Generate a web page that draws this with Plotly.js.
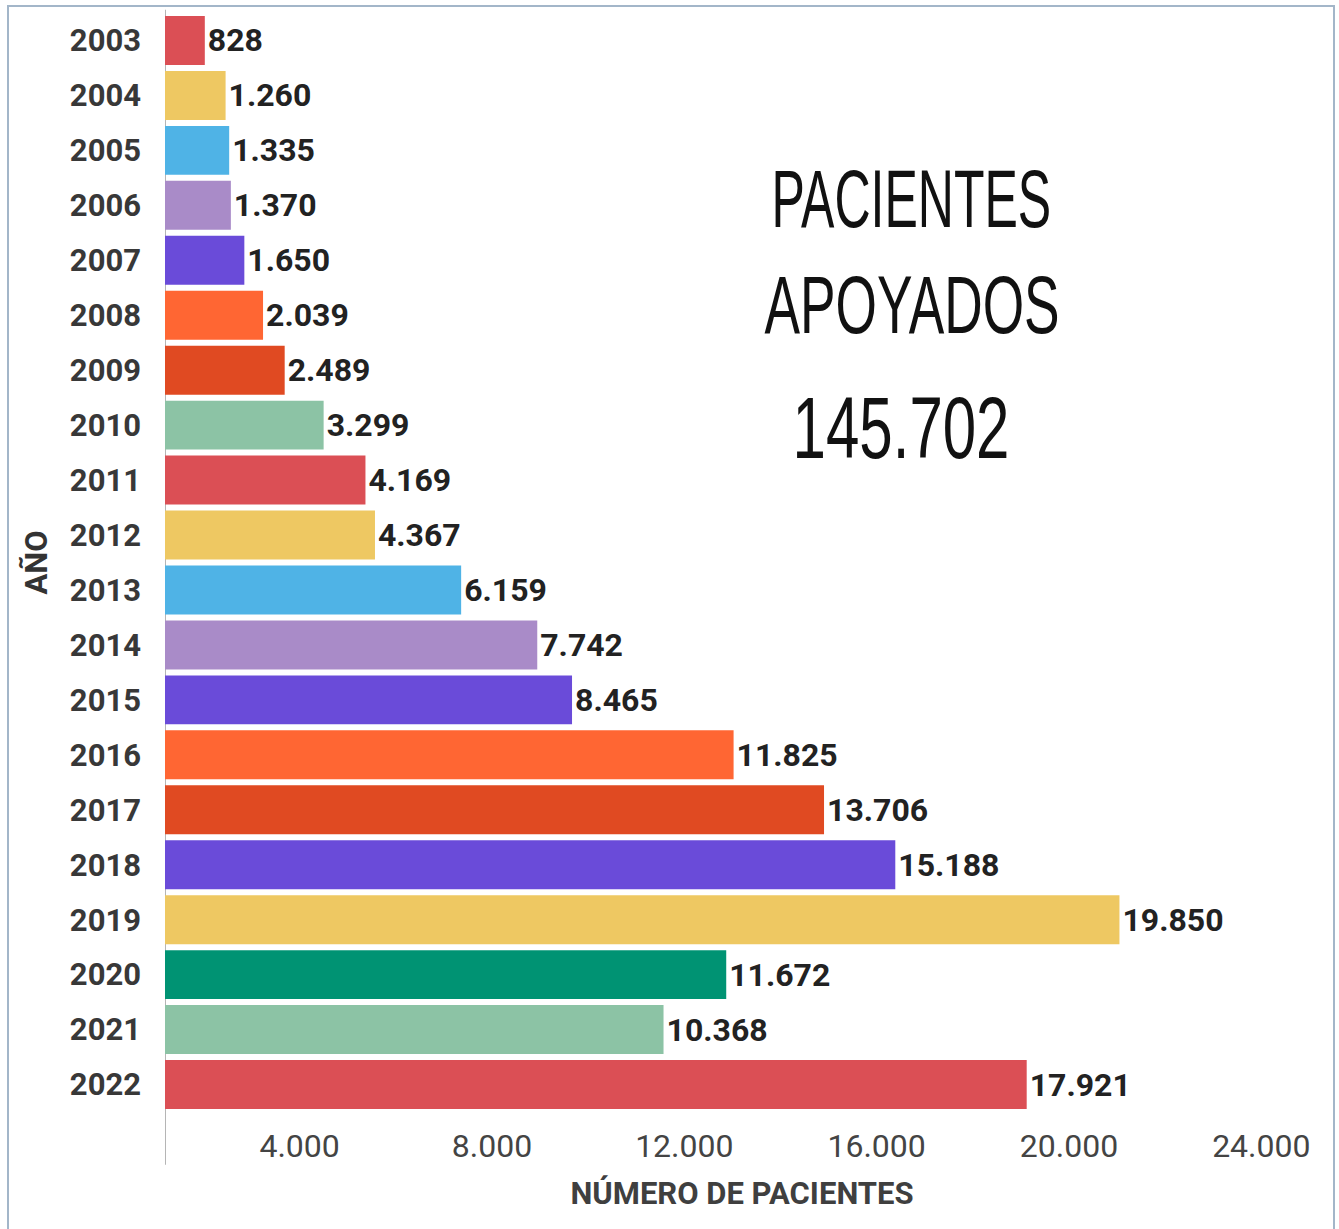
<!DOCTYPE html>
<html>
<head>
<meta charset="utf-8">
<script src="https://cdn.plot.ly/plotly-3.0.1.min.js"></script>
<style>
  html, body { margin: 0; padding: 0; background: #ffffff; }
  #wrap { position: relative; width: 1339px; height: 1229px; overflow: hidden; }
  #chart { width: 1339px; height: 1229px; }
  #frame { position: absolute; left: 7px; top: 5px; width: 1328px; height: 1240px;
           border: 2px solid #a3b6c9; box-sizing: border-box; pointer-events: none; }
</style>
</head>
<body>
<div id="wrap">
  <div id="chart"></div>
  <div id="frame"></div>
</div>
<script>
// ---- data ----
const years = ["2003","2004","2005","2006","2007","2008","2009","2010","2011","2012",
               "2013","2014","2015","2016","2017","2018","2019","2020","2021","2022"];
const patients = [828, 1260, 1335, 1370, 1650, 2039, 2489, 3299, 4169, 4367,
                  6159, 7742, 8465, 11825, 13706, 15188, 19850, 11672, 10368, 17921];
const barColors = ["#db4f55","#eec862","#4fb3e6","#a98bc8","#6a4bd9","#ff6633","#e04a22","#8cc3a5","#db4f55","#eec862",
                   "#4fb3e6","#a98bc8","#6a4bd9","#ff6633","#e04a22","#6a4bd9","#eec862","#009373","#8cc3a5","#db4f55"];
// tick labels as printed in the source (positions as they appear on its axis)
const tickPositions = [2800, 6800, 10800, 14800, 18800, 22800];
const tickLabels = ["4.000", "8.000", "12.000", "16.000", "20.000", "24.000"];
const titleLines = ["PACIENTES", "APOYADOS", "145.702"];
const xTitle = "NÚMERO DE PACIENTES";
const yTitle = "AÑO";

const trace = {
  type: "bar",
  orientation: "h",
  x: patients,
  y: years,
  marker: { color: barColors, line: { width: 0 } },
  texttemplate: "%{x:,}",
  textposition: "outside",
  constraintext: "none",
  cliponaxis: false,
  outsidetextfont: { family: "Roboto, Arial, sans-serif", size: 32, color: "#222222", weight: "bold" },
  hoverinfo: "skip"
};

const layout = {
  width: 1339,
  height: 1229,
  separators: ",.",
  margin: { l: 165, r: 20, t: 12.5, b: 116.5, pad: 0 },
  paper_bgcolor: "#ffffff",
  plot_bgcolor: "#ffffff",
  showlegend: false,
  bargap: 0.11,
  xaxis: {
    range: [0, 24000],
    showgrid: false,
    zeroline: false,
    showline: false,
    ticks: "",
    tickvals: tickPositions,
    ticktext: tickLabels,
    ticklabelstandoff: 12,
    tickfont: { family: "Roboto, Arial, sans-serif", size: 32, color: "#444444" },
    title: { text: xTitle, standoff: 18, font: { family: "Roboto, Arial, sans-serif", size: 31, color: "#3f3f3f", weight: "bold" } },
    automargin: false,
    fixedrange: true
  },
  yaxis: {
    type: "category",
    autorange: "reversed",
    showgrid: false,
    zeroline: false,
    showline: false,
    ticks: "",
    ticklabelstandoff: 23,
    tickfont: { family: "Roboto, Arial, sans-serif", size: 31, color: "#383838", weight: "bold" },
    title: { text: yTitle, standoff: 12, font: { family: "Roboto, Arial, sans-serif", size: 31, color: "#333333", weight: "bold" } },
    automargin: false,
    fixedrange: true
  },
  shapes: [
    { type: "line", xref: "x", yref: "paper", x0: 0, x1: 0, y0: -0.048, y1: 1.003,
      line: { color: "#b5b5b5", width: 2 }, layer: "below" }
  ],
  annotations: [
    { text: titleLines[0], xref: "paper", yref: "paper", x: 0.647, y: 0.831, xanchor: "center", yanchor: "middle",
      showarrow: false, font: { family: "Liberation Sans Narrow, Arial Narrow, sans-serif", size: 82, color: "#111111" } },
    { text: titleLines[1], xref: "paper", yref: "paper", x: 0.647, y: 0.735, xanchor: "center", yanchor: "middle",
      showarrow: false, font: { family: "Liberation Sans Narrow, Arial Narrow, sans-serif", size: 82, color: "#111111" } },
    { text: titleLines[2], xref: "paper", yref: "paper", x: 0.638, y: 0.623, xanchor: "center", yanchor: "middle",
      showarrow: false, font: { family: "Liberation Sans Narrow, Arial Narrow, sans-serif", size: 88, color: "#111111" } }
  ]
};

// horizontal condensing of the big title lines (the source uses a very narrow face)
const titleWidths = [280, 295, 217];

Plotly.newPlot("chart", [trace], layout, { staticPlot: true, displayModeBar: false }).then(function () {
  const texts = document.querySelectorAll("#chart .annotation-text");
  texts.forEach(function (t, i) {
    if (i >= titleWidths.length) return;
    const bb = t.getBBox();
    const s = titleWidths[i] / bb.width;
    t.style.transformBox = "fill-box";
    t.style.transformOrigin = "50% 50%";
    t.style.transform = "scaleX(" + s.toFixed(3) + ")";
  });
});
</script>
</body>
</html>
